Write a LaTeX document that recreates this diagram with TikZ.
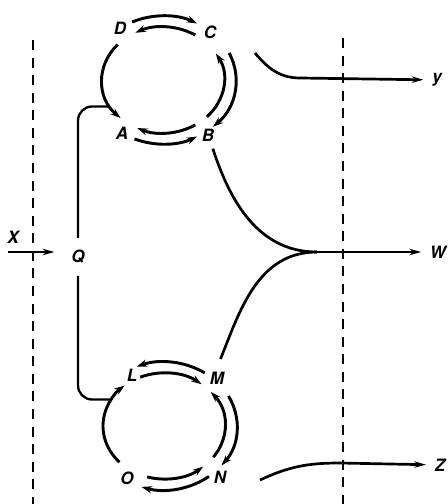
\documentclass[tikz,border=0pt]{standalone}
\usepackage{fontspec}
\setsansfont{TeX Gyre Heros}
\usetikzlibrary{arrows.meta}
\tikzset{
  lbl/.style={font=\fontsize{14.5}{16}\selectfont\sffamily\itshape\bfseries},
  rxn/.style={line width=2.5pt,-{Stealth[length=9pt,width=6pt]}},
  link/.style={line width=2pt,rounded corners=12pt},
  flow/.style={line width=2.3pt},
  prod/.style={line width=2.3pt,-{Stealth[length=10pt,width=5.5pt]}},
  wall/.style={line width=1.5pt,dash pattern=on 8.5pt off 6.5pt}
}

\begin{document}
\begin{tikzpicture}[x=.03cm,y=.03cm]
\useasboundingbox (0,0) rectangle (447,504);

\coordinate (T) at (163,424);
\coordinate (U) at (164,78);

\node[lbl] (D) at (120,476) {D};
\node[lbl] (C) at (210,472) {C};
\node[lbl] (A) at (122,371) {A};
\node[lbl] (B) at (208,369) {B};
\node[lbl] (L) at (132,129) {L};
\node[lbl] (M) at (217,126) {M};
\node[lbl] (O) at (127,26) {O};
\node[lbl] (N) at (220,27) {N};
\node[lbl] (Q) at (78,247) {Q};
\node[lbl] (X) at (13,267) {X};
\node[lbl] (ylab) at (437,424) {y};
\node[lbl] (W) at (438,252) {W};
\node[lbl] (Z) at (440,39) {Z};

\begin{scope}[shift=(T)]
\coordinate (a0) at (210:61 and 53);
\draw[rxn] (138:61 and 53) arc[start angle=138,end angle=226,x radius=61,y radius=53];
\draw[rxn] (115:73 and 64) arc[start angle=115,end angle=62,x radius=73,y radius=64];
\draw[rxn] (58:61 and 53) arc[start angle=58,end angle=117,x radius=61,y radius=53];
\draw[rxn] (-44:61 and 53) arc[start angle=-44,end angle=30,x radius=61,y radius=53];
\draw[rxn] (25:73 and 64) arc[start angle=25,end angle=-47,x radius=73,y radius=64];
\draw[rxn] (-58:61 and 53) arc[start angle=-58,end angle=-115,x radius=61,y radius=53];
\draw[rxn] (-113:73 and 64) arc[start angle=-113,end angle=-62,x radius=73,y radius=64];
\end{scope}

\begin{scope}[shift=(U)]
\coordinate (l0) at (150:61 and 53);
\draw[rxn] (223:61 and 53) arc[start angle=223,end angle=130,x radius=61,y radius=53];
\draw[rxn] (56:73 and 64) arc[start angle=56,end angle=112,x radius=73,y radius=64];
\draw[rxn] (113:61 and 53) arc[start angle=113,end angle=52,x radius=61,y radius=53];
\draw[rxn] (-36:61 and 53) arc[start angle=-36,end angle=40,x radius=61,y radius=53];
\draw[rxn] (28:73 and 64) arc[start angle=28,end angle=-38,x radius=73,y radius=64];
\draw[rxn] (-106:61 and 53) arc[start angle=-106,end angle=-50,x radius=61,y radius=53];
\draw[rxn] (-52:73 and 64) arc[start angle=-52,end angle=-108,x radius=73,y radius=64];
\end{scope}

\coordinate (xin) at (8,252);
\coordinate (w0) at (317,252);
\coordinate (y0) at (255,451);
\coordinate (y1) at (300,426);
\coordinate (z0) at (260,24);
\coordinate (z1) at (340,41);

\draw[wall] (33,464) -- (33,0);
\draw[wall] (343,466) -- (343,0);

\draw[prod,shorten >=11pt] (xin) -- (xin -| Q.west);
\draw[link,shorten <=7pt] (Q.north) |- (a0);
\draw[link,shorten <=7pt] (Q.south) |- (l0);

\draw[flow,shorten <=3pt] (B.-70) to[out=-72,in=180] (w0);
\draw[flow,shorten <=8pt] (M.north) to[out=68,in=180] (w0);
\draw[prod,shorten >=4pt] (w0) -- (W);
\draw[prod,shorten >=4pt] (y0) to[out=-50,in=180] (y1) -- (ylab);
\draw[prod,shorten >=4pt] (z0) to[out=25,in=180] (z1) -- (Z);

\end{tikzpicture}
\end{document}
